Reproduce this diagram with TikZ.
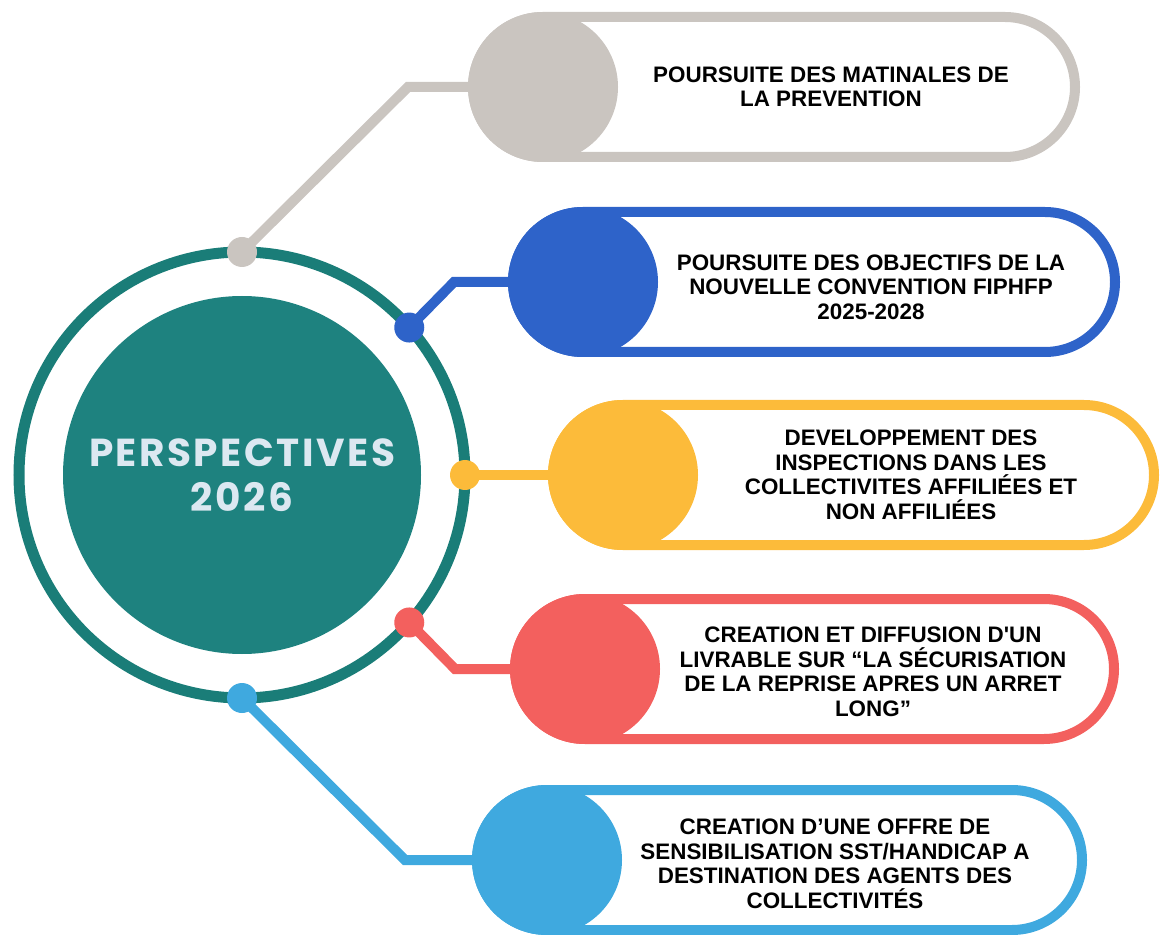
\documentclass[tikz,border=0pt]{standalone}
\usepackage{fontspec}
\setmainfont{Liberation Sans}
\newfontfamily\hubfont{Poppins}[LetterSpace=6.5]
\usetikzlibrary{calc,backgrounds}

\definecolor{ringteal}{HTML}{1A7D78}
\definecolor{hubteal}{HTML}{1E827F}
\definecolor{hubtext}{HTML}{DCE8F1}
\definecolor{stone}{HTML}{CAC5C0}
\definecolor{royal}{HTML}{2E63C9}
\definecolor{sun}{HTML}{FCBB3A}
\definecolor{coral}{HTML}{F3605E}
\definecolor{sky}{HTML}{3FA9DF}

\begin{document}
\begin{tikzpicture}[x=0.5pt,y=-0.5pt,
    dot/.style={circle,minimum size=15pt,inner sep=0pt},
    knob/.style={circle,minimum size=75pt,inner sep=0pt},
    wire/.style={line width=5pt},
    pill/.style={line width=5pt,rounded corners=35pt},
    note/.style={font=\bfseries\fontsize{11.2}{12.25}\selectfont,align=center,inner sep=0pt}]
\useasboundingbox (0,0) rectangle (1162,935);

\node[circle,fill=hubteal,minimum size=179pt,inner sep=0pt,text=hubtext,align=center,
    font=\hubfont\bfseries\fontsize{19.5}{22.5}\selectfont] (hub) at (242,475) {PERSPECTIVES\\2026};
\draw[ringteal,line width=5.5pt] (hub) circle[radius=111.5pt];

\node[dot,fill=stone] (d1) at ($(hub)+(90:111.5pt)$) {};
\node[dot,fill=royal] (d2) at ($(hub)+(41.4:111.5pt)$) {};
\node[dot,fill=sun]   (d3) at ($(hub)+(0:111.5pt)$) {};
\node[dot,fill=coral] (d4) at ($(hub)+(-41.4:111.5pt)$) {};
\node[dot,fill=sky]   (d5) at ($(hub)+(-90:111.5pt)$) {};

\node[knob,fill=stone] (k1) at (543,87) {};
\node[knob,fill=royal] (k2) at (583,282) {};
\node[knob,fill=sun]   (k3) at (623,475) {};
\node[knob,fill=coral] (k4) at (585,669) {};
\node[knob,fill=sky]   (k5) at (547,860) {};

\coordinate (b1) at (408,87);
\coordinate (b2) at (454,282);
\coordinate (b4) at (455,669);
\coordinate (b5) at (405,860);

\coordinate (e1) at (1075,87);
\coordinate (e2) at (1115,282);
\coordinate (e3) at (1154,475);
\coordinate (e4) at (1114,669);
\coordinate (e5) at (1082,860);

\begin{scope}[on background layer]
  \draw[wire,stone] (d1.center) -- (b1) -- (k1.center);
  \draw[wire,royal] (d2.center) -- (b2) -- (k2.center);
  \draw[wire,sun]   (d3.center) -- (k3.center);
  \draw[wire,coral] (d4.center) -- (b4) -- (k4.center);
  \draw[wire,sky]   (d5.center) -- (b5) -- (k5.center);
  \draw[pill,stone] ([shift={(-35pt,35pt)}]k1.center) rectangle ([yshift=-35pt]e1);
  \draw[pill,royal] ([shift={(-35pt,35pt)}]k2.center) rectangle ([yshift=-35pt]e2);
  \draw[pill,sun]   ([shift={(-35pt,35pt)}]k3.center) rectangle ([yshift=-35pt]e3);
  \draw[pill,coral] ([shift={(-35pt,35pt)}]k4.center) rectangle ([yshift=-35pt]e4);
  \draw[pill,sky]   ([shift={(-35pt,35pt)}]k5.center) rectangle ([yshift=-35pt]e5);
\end{scope}

\node[note] (t1) at ([xshift=144pt]k1) {POURSUITE DES MATINALES DE\\LA PREVENTION};
\node[note] (t2) at ([xshift=144pt,yshift=-2.5pt]k2) {POURSUITE DES OBJECTIFS DE LA\\NOUVELLE CONVENTION FIPHFP\\2025-2028};
\node[note] (t3) at ([xshift=144pt]k3) {DEVELOPPEMENT DES\\INSPECTIONS DANS LES\\COLLECTIVITES AFFILIÉES ET\\NON AFFILIÉES};
\node[note] (t4) at ([xshift=144pt,yshift=-1.5pt]k4) {CREATION ET DIFFUSION D\textquotesingle UN\\LIVRABLE SUR “LA SÉCURISATION\\DE LA REPRISE APRES UN ARRET\\LONG”};
\node[note] (t5) at ([xshift=144pt,yshift=-2pt]k5) {CREATION D’UNE OFFRE DE\\SENSIBILISATION SST/HANDICAP A\\DESTINATION DES AGENTS DES\\COLLECTIVITÉS};
\end{tikzpicture}
\end{document}
